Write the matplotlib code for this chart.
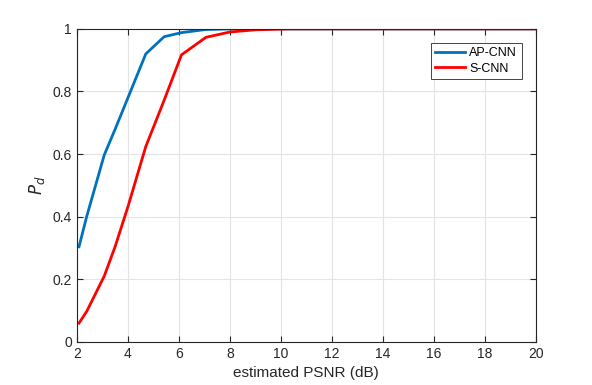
import matplotlib.pyplot as plt
from matplotlib.ticker import FormatStrFormatter

# valores
psnr = [2.08, 2.38, 3.07, 3.5, 4.0, 4.7, 5.42, 6.1, 7.06, 8.0, 9.0, 10.3, 12.0, 14.0, 16.0, 18.0, 20.0]
pd_ap = [0.304, 0.40, 0.597, 0.68, 0.78, 0.92, 0.975, 0.988, 0.998, 1.0, 1.0, 1.0, 1.0, 1.0, 1.0, 1.0, 1.0]
pd_s = [0.06, 0.097, 0.21, 0.305, 0.432, 0.624, 0.772, 0.917, 0.973, 0.99, 0.997, 1.0, 1.0, 1.0, 1.0, 1.0, 1.0]

plt.rcParams['font.family'] = ['Liberation Sans', 'DejaVu Sans']

fig = plt.figure(figsize=(5.92, 3.85), dpi=100)
ax = fig.add_axes([0.13, 0.112, 0.775, 0.813])

ax.plot(psnr, pd_ap, color='#0072BD', lw=2, label='AP-CNN')
ax.plot(psnr, pd_s, color='#FF0000', lw=2, label='S-CNN')

ax.set_xlim(2, 20)
ax.set_ylim(0, 1)
ax.set_xticks(range(2, 21, 2))
ax.set_yticks([0, 0.2, 0.4, 0.6, 0.8, 1.0])
ax.yaxis.set_major_formatter(FormatStrFormatter('%g'))
ax.grid(True, color='#e3e3e3', lw=0.8)
ax.set_axisbelow(True)
ax.tick_params(direction='in', length=4, width=0.8, colors='#262626', labelsize=10,
               top=True, right=True)
for s in ax.spines.values():
    s.set_color('#262626')
    s.set_linewidth(0.8)

ax.set_xlabel('estimated PSNR (dB)', fontsize=11, color='#262626')
ax.set_ylabel('$P_d$', fontsize=12, color='#262626')

leg = ax.legend(loc='upper right', bbox_to_anchor=(0.969, 0.956), fontsize=9,
                fancybox=False, edgecolor='#262626', framealpha=1,
                handlelength=2.4, handletextpad=0.35, borderpad=0.35,
                labelspacing=0.3, borderaxespad=0)
leg.get_frame().set_linewidth(0.6)

fig.savefig('out.png', dpi=100)
